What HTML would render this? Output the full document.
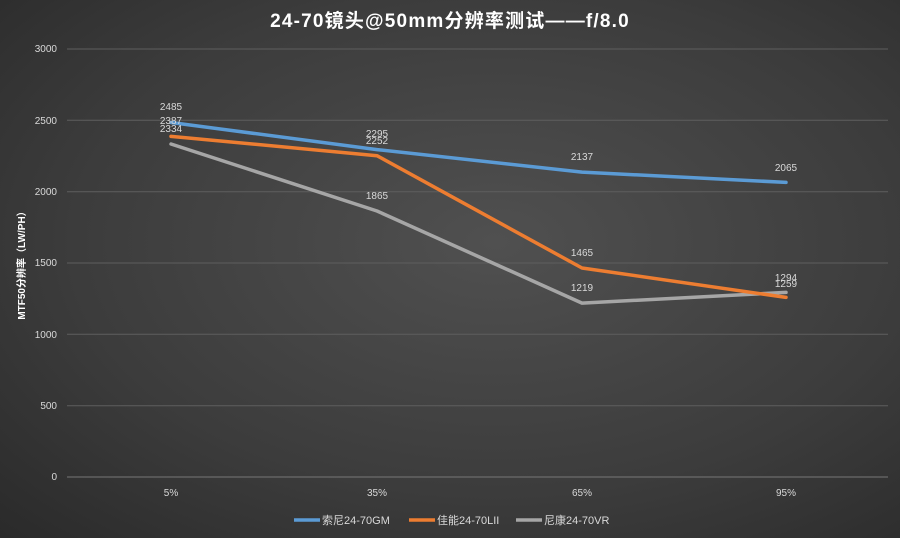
<!DOCTYPE html>
<html><head><meta charset="utf-8"><style>
body{margin:0;width:900px;height:538px;overflow:hidden;background:radial-gradient(ellipse at 55% 45%,#505050 0%,#3c3c3c 60%,#2a2a2a 100%);font-family:"Liberation Sans","Noto Sans CJK SC",sans-serif}
svg{position:absolute;left:0;top:0}
</style></head><body>
<svg width="900" height="538" font-family="Liberation Sans, Noto Sans CJK SC, sans-serif">
<text x="450" y="27" text-anchor="middle" fill="#fff" font-size="19" font-weight="bold" letter-spacing="1.2">24-70镜头@50mm分辨率测试——f/8.0</text>
<g stroke="#5e5e5e" stroke-width="1">
<line x1="67" x2="888" y1="49" y2="49"/><line x1="67" x2="888" y1="120.3" y2="120.3"/>
<line x1="67" x2="888" y1="191.7" y2="191.7"/><line x1="67" x2="888" y1="263" y2="263"/>
<line x1="67" x2="888" y1="334.3" y2="334.3"/><line x1="67" x2="888" y1="405.7" y2="405.7"/>
<line x1="67" x2="888" y1="477" y2="477" stroke="#777"/>
</g>
<g fill="#d9d9d9" font-size="10" text-anchor="end">
<text x="57" y="52">3000</text><text x="57" y="124">2500</text><text x="57" y="195">2000</text>
<text x="57" y="266">1500</text><text x="57" y="338">1000</text><text x="57" y="409">500</text><text x="57" y="480">0</text>
</g>
<g fill="#d9d9d9" font-size="10" text-anchor="middle">
<text x="171" y="496">5%</text><text x="377" y="496">35%</text><text x="582" y="496">65%</text><text x="786" y="496">95%</text>
</g>
<text transform="translate(25,263) rotate(-90)" fill="#fff" font-size="10" font-weight="bold" text-anchor="middle">MTF50分辨率（LW/PH）</text>
<g fill="none" stroke-width="3.5" stroke-linejoin="round" stroke-linecap="round">
<polyline stroke="#a6a6a6" points="171,144 377,211 582,303.1 786,292.4"/>
<polyline stroke="#ed7d31" points="171,136.4 377,155.7 582,268 786,297.4"/>
<polyline stroke="#5b9bd5" points="171,122.5 377,149.6 582,172.1 786,182.4"/>
</g>
<g fill="#d9d9d9" font-size="10" text-anchor="middle">
<text x="171" y="110">2485</text><text x="171" y="124">2387</text><text x="171" y="132">2334</text>
<text x="377" y="137">2295</text><text x="377" y="144">2252</text><text x="377" y="199">1865</text>
<text x="582" y="160">2137</text><text x="582" y="256">1465</text><text x="582" y="291">1219</text>
<text x="786" y="171">2065</text><text x="786" y="281">1294</text><text x="786" y="287">1259</text>
</g>
<g font-size="11" fill="#d9d9d9">
<line x1="294" x2="320" y1="520" y2="520" stroke="#5b9bd5" stroke-width="3.5"/><text x="322" y="524">索尼24-70GM</text>
<line x1="409" x2="435" y1="520" y2="520" stroke="#ed7d31" stroke-width="3.5"/><text x="437" y="524">佳能24-70LII</text>
<line x1="516" x2="542" y1="520" y2="520" stroke="#a6a6a6" stroke-width="3.5"/><text x="544" y="524">尼康24-70VR</text>
</g>
</svg>
</body></html>
